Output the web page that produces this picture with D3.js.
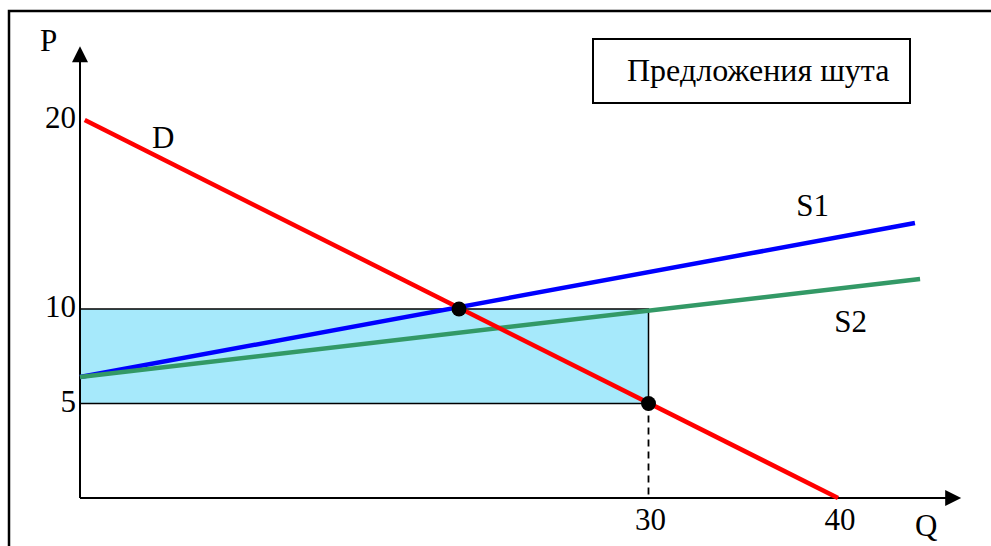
<!DOCTYPE html>
<html><head><meta charset="utf-8">
<script src="https://cdn.jsdelivr.net/npm/d3@7/dist/d3.min.js"></script>
<style>
html,body{margin:0;padding:0;background:#fff;}
</style></head><body>
<script>
// ---- data ----
const demandLine = [{q:0.25,p:20},{q:40,p:0}];
const supply1 = [{q:0,p:6.4},{q:44.06,p:14.55}];
const supply2 = [{q:0,p:6.4},{q:44.33,p:11.59}];
const equilibria = [{q:20,p:10},{q:30,p:5}];
const rectArea = {q0:0,q1:30,p0:5,p1:10};
const yTicks = [20,10,5];
const xTicks = [30,40];
const lineLabels = [{t:"D",q:3.8,p:18.5},{t:"S1",q:37.8,p:14.9},{t:"S2",q:39.8,p:8.8}];
const legendText = "Предложения шута";
const axisMax = {q:46.5,p:23.9};

const FONT = "'Times New Roman', 'Liberation Serif', 'DejaVu Serif', serif";
const W=991,H=546;
const svg=d3.select("body").append("svg").attr("width",W).attr("height",H)
  .style("font-family",FONT);

const x=d3.scaleLinear().domain([0,40]).range([80,838]);
const y=d3.scaleLinear().domain([0,10]).range([498,309]);

// outer frame (top + left visible)
svg.append("rect").attr("x",9).attr("y",11).attr("width",W+20).attr("height",H+20)
  .attr("fill","none").attr("stroke","#000").attr("stroke-width",2.5);

// shaded rectangle
svg.append("rect")
  .attr("x",x(rectArea.q0)).attr("y",y(rectArea.p1))
  .attr("width",x(rectArea.q1)-x(rectArea.q0)).attr("height",y(rectArea.p0)-y(rectArea.p1))
  .attr("fill","#a6e9fb").attr("stroke","#000").attr("stroke-width",1.5);

// axes
svg.append("line").attr("x1",x(0)).attr("y1",y(0)).attr("x2",x(0)).attr("y2",y(axisMax.p)+12)
  .attr("stroke","#000").attr("stroke-width",2);
svg.append("path").attr("d",`M${x(0)},${y(axisMax.p)} L${x(0)-8},${y(axisMax.p)+16} L${x(0)+8},${y(axisMax.p)+16}Z`).attr("fill","#000");
svg.append("line").attr("x1",x(0)).attr("y1",y(0)).attr("x2",x(axisMax.q)-12).attr("y2",y(0))
  .attr("stroke","#000").attr("stroke-width",2);
svg.append("path").attr("d",`M${x(axisMax.q)},${y(0)} L${x(axisMax.q)-16},${y(0)-8} L${x(axisMax.q)-16},${y(0)+8}Z`).attr("fill","#000");

// dashed drop line
svg.append("line").attr("x1",x(30)).attr("y1",y(5)).attr("x2",x(30)).attr("y2",y(0))
  .attr("stroke","#000").attr("stroke-width",1.8).attr("stroke-dasharray","7,5");

const line=d3.line().x(d=>x(d.q)).y(d=>y(d.p));
svg.append("path").datum(supply1).attr("d",line).attr("stroke","#0000ff").attr("stroke-width",4.5).attr("fill","none");
svg.append("path").datum(supply2).attr("d",line).attr("stroke","#339966").attr("stroke-width",4.5).attr("fill","none");
svg.append("path").datum(demandLine).attr("d",line).attr("stroke","#ff0000").attr("stroke-width",4.5).attr("fill","none");

svg.selectAll("circle.eq").data(equilibria).enter().append("circle")
  .attr("cx",d=>x(d.q)).attr("cy",d=>y(d.p)).attr("r",7.5).attr("fill","#000");

// tick labels
svg.selectAll("text.yt").data(yTicks).enter().append("text")
  .attr("x",76).attr("y",d=>y(d)+8).attr("text-anchor","end").attr("font-size",31).text(d=>d);
svg.selectAll("text.xt").data(xTicks).enter().append("text")
  .attr("x",d=>x(d)+2).attr("y",530).attr("text-anchor","middle").attr("font-size",31).text(d=>d);

svg.append("text").attr("x",40).attr("y",51).attr("font-size",31).text("P");
svg.append("text").attr("x",915).attr("y",536).attr("font-size",31).text("Q");

svg.selectAll("text.ll").data(lineLabels).enter().append("text")
  .attr("x",d=>x(d.q)).attr("y",d=>y(d.p)).attr("font-size",31).text(d=>d.t);

// legend box
svg.append("rect").attr("x",593).attr("y",39).attr("width",317).attr("height",64)
  .attr("fill","#fff").attr("stroke","#000").attr("stroke-width",2);
svg.append("text").attr("x",627).attr("y",81).attr("font-size",32).text(legendText);
</script>
</body></html>
